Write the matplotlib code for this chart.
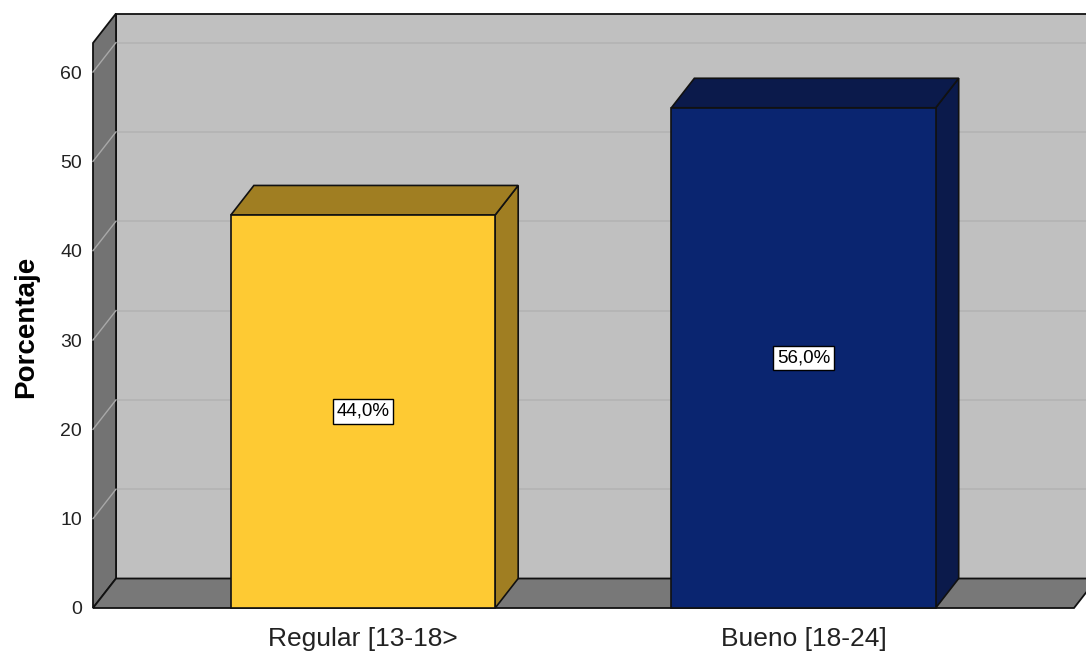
import matplotlib
matplotlib.use("Agg")
import matplotlib.pyplot as plt
from matplotlib.patches import Polygon, Rectangle

categories = ["Regular [13-18>", "Bueno [18-24]"]
values = [44.0, 56.0]
yticks = [0, 10, 20, 30, 40, 50, 60]
front_colors = ["#FECA33", "#0A2570"]
side_colors = ["#A07E22", "#0B1A4B"]

plt.rcParams['font.family'] = ['Liberation Sans', 'DejaVu Sans']

W, H = 1086, 652
fig = plt.figure(figsize=(W / 100, H / 100), dpi=100)
fig.patch.set_facecolor("white")

left_px, right_px, bot_px, top_px = 93, 1074, 608, 43
ax = fig.add_axes([left_px / W, (H - bot_px) / H, (right_px - left_px) / W, (bot_px - top_px) / H])

x0, x1 = -0.613, 1.614
ymax = 63.25
ax.set_xlim(x0, x1)
ax.set_ylim(0, ymax)
ax.set_facecolor("none")
for s in ax.spines.values():
    s.set_visible(False)

# depth in data units (derived from pixel offsets of ~23px, ~29.5px)
px_per_x = (right_px - left_px) / (x1 - x0)
px_per_y = (bot_px - top_px) / ymax
DX = 23 / px_per_x
DY = 29.5 / px_per_y

edge = "#111111"
grid_c = "#b3b3b3"

# back wall
ax.add_patch(Rectangle((x0 + DX, DY), (x1 - x0) + 0.2, ymax, facecolor="#C0C0C0",
                       edgecolor=edge, lw=1.3, clip_on=False, zorder=1))
# back gridlines
for v in yticks[1:]:
    ax.plot([x0 + DX, x1 + DX + 0.2], [v + DY, v + DY], color=grid_c, lw=1.2,
            clip_on=False, zorder=2)

# left wall
ax.add_patch(Polygon([(x0, 0), (x0, ymax), (x0 + DX, ymax + DY), (x0 + DX, DY)],
                     closed=True, facecolor="#737373", edgecolor=edge, lw=1.3,
                     clip_on=False, zorder=3))
for v in yticks[1:]:
    ax.plot([x0, x0 + DX], [v, v + DY], color="#a8a8a8", lw=1.0, clip_on=False, zorder=4)

# floor
ax.add_patch(Polygon([(x0, 0), (x1, 0), (x1 + DX, DY), (x0 + DX, DY)], closed=True,
                     facecolor="#787878", edgecolor=edge, lw=1.3, clip_on=False, zorder=5))

# bars
bw = 0.6
for i, (v, fc, sc) in enumerate(zip(values, front_colors, side_colors)):
    l, r = i - bw / 2, i + bw / 2
    ax.add_patch(Polygon([(r, 0), (r + DX, DY), (r + DX, v + DY), (r, v)], closed=True,
                         facecolor=sc, edgecolor=edge, lw=1.2, clip_on=False, zorder=6))
    ax.add_patch(Polygon([(l, v), (r, v), (r + DX, v + DY), (l + DX, v + DY)], closed=True,
                         facecolor=sc, edgecolor=edge, lw=1.2, clip_on=False, zorder=6))
    ax.add_patch(Rectangle((l, 0), bw, v, facecolor=fc, edgecolor=edge, lw=1.2,
                           clip_on=False, zorder=7))
    ax.text(i, v / 2, f"{v:.1f}%".replace(".", ","), ha="center", va="center",
            fontsize=13.5, color="black", zorder=8,
            bbox=dict(boxstyle="square,pad=0.2", facecolor="white", edgecolor="black", lw=1))

ax.set_yticks(yticks)
ax.set_yticklabels([str(t) for t in yticks], fontsize=14, color="#222222")
ax.set_xticks(range(len(categories)))
ax.set_xticklabels(categories, fontsize=19, color="#222222")
ax.tick_params(axis="y", length=0, pad=8)
ax.tick_params(axis="x", length=0, pad=14)

fig.text(26 / W, 1 - 327 / H, "Porcentaje", rotation=90, ha="center", va="center",
         fontsize=20, fontweight="bold", color="black")

fig.savefig("out.png", dpi=100)
